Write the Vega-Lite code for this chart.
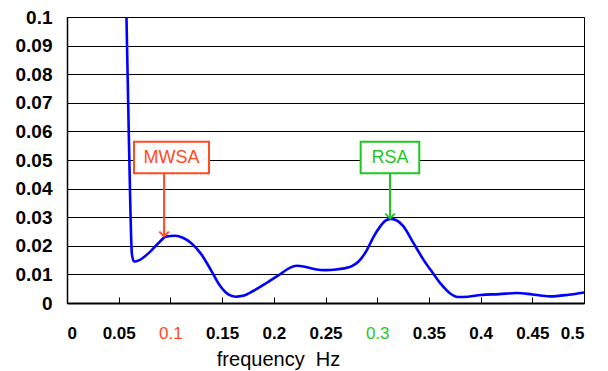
{
  "$schema": "https://vega.github.io/schema/vega-lite/v6.json",
  "width": 517,
  "height": 286,
  "autosize": {"type": "none"},
  "padding": {"left": 67, "top": 17, "right": 24, "bottom": 68},
  "background": "white",
  "config": {
    "view": {"stroke": "black", "strokeWidth": 1},
    "font": "Liberation Sans"
  },
  "datasets": {
    "spectrum": [
      {"f": 0.0575, "p": 0.1},
      {"f": 0.06, "p": 0.055},
      {"f": 0.0628, "p": 0.017},
      {"f": 0.0648, "p": 0.0145},
      {"f": 0.07, "p": 0.015},
      {"f": 0.08, "p": 0.0178},
      {"f": 0.09, "p": 0.0215},
      {"f": 0.0955, "p": 0.0232},
      {"f": 0.105, "p": 0.0235},
      {"f": 0.112, "p": 0.0228},
      {"f": 0.12, "p": 0.021},
      {"f": 0.13, "p": 0.017},
      {"f": 0.14, "p": 0.011},
      {"f": 0.148, "p": 0.006},
      {"f": 0.156, "p": 0.003},
      {"f": 0.163, "p": 0.0022},
      {"f": 0.17, "p": 0.0025},
      {"f": 0.18, "p": 0.0042},
      {"f": 0.193, "p": 0.007},
      {"f": 0.205, "p": 0.0098},
      {"f": 0.215, "p": 0.0122},
      {"f": 0.222, "p": 0.013},
      {"f": 0.23, "p": 0.0127},
      {"f": 0.24, "p": 0.0118},
      {"f": 0.25, "p": 0.0115},
      {"f": 0.26, "p": 0.0117},
      {"f": 0.268, "p": 0.0121},
      {"f": 0.275, "p": 0.0128},
      {"f": 0.282, "p": 0.0145},
      {"f": 0.29, "p": 0.0185},
      {"f": 0.297, "p": 0.0235},
      {"f": 0.303, "p": 0.0268},
      {"f": 0.308, "p": 0.0288},
      {"f": 0.313, "p": 0.0294},
      {"f": 0.318, "p": 0.029},
      {"f": 0.325, "p": 0.027},
      {"f": 0.335, "p": 0.021},
      {"f": 0.345, "p": 0.015},
      {"f": 0.354, "p": 0.0104},
      {"f": 0.362, "p": 0.0065},
      {"f": 0.37, "p": 0.0035},
      {"f": 0.378, "p": 0.0021},
      {"f": 0.388, "p": 0.0022},
      {"f": 0.4, "p": 0.0028},
      {"f": 0.418, "p": 0.0031},
      {"f": 0.435, "p": 0.0035},
      {"f": 0.45, "p": 0.003},
      {"f": 0.467, "p": 0.0023},
      {"f": 0.485, "p": 0.0029},
      {"f": 0.5, "p": 0.0037}
    ],
    "notes": [
      {"name": "MWSA", "x0": 0.0648, "x1": 0.1373, "xc": 0.101, "xa": 0.0939, "ytop": 0.0564, "ybot": 0.04535, "ymid": 0.0508, "tip": 0.0233},
      {"name": "RSA", "x0": 0.284, "x1": 0.3407, "xc": 0.3124, "xa": 0.3124, "ytop": 0.0564, "ybot": 0.04535, "ymid": 0.0508, "tip": 0.0296}
    ]
  },
  "layer": [
    {
      "data": {"name": "spectrum"},
      "mark": {"type": "line", "color": "#0000ff", "strokeWidth": 2.6, "interpolate": "monotone", "clip": true},
      "encoding": {
        "x": {
          "field": "f", "type": "quantitative",
          "scale": {"domain": [0, 0.5], "nice": false, "zero": false},
          "axis": {
            "values": [0, 0.05, 0.1, 0.15, 0.2, 0.25, 0.3, 0.35, 0.4, 0.45, 0.5],
            "tickCount": 20,
            "format": ".2~f",
            "grid": false,
            "labelOverlap": false,
            "domainColor": "black",
            "domainWidth": 2,
            "tickColor": "black",
            "tickSize": -6,
            "labelPadding": 28,
            "labelFontSize": 17,
            "labelFont": "Liberation Sans",
            "labelFontWeight": {"condition": {"test": "abs(datum.value - 0.1) < 0.001 || abs(datum.value - 0.3) < 0.001", "value": "normal"}, "value": "bold"},
            "labelColor": {"condition": [{"test": "abs(datum.value - 0.1) < 0.001", "value": "#ff4a22"}, {"test": "abs(datum.value - 0.3) < 0.001", "value": "#1ec81e"}], "value": "black"},
            "title": "frequency\u00a0\u00a0Hz",
            "titleFont": "Liberation Sans",
            "titleFontSize": 20,
            "titleFontWeight": "normal",
            "titleColor": "black",
            "titleX": 211,
            "titleY": 56,
            "titleAlign": "center",
            "titleBaseline": "middle"
          }
        },
        "y": {
          "field": "p", "type": "quantitative",
          "scale": {"domain": [0, 0.1], "nice": false},
          "axis": {
            "values": [0, 0.01, 0.02, 0.03, 0.04, 0.05, 0.06, 0.07, 0.08, 0.09, 0.1],
            "tickCount": 20,
            "format": ".2~f",
            "grid": true,
            "labelOverlap": false,
            "gridColor": "black",
            "gridOpacity": 1,
            "gridWidth": 1,
            "domainColor": "black",
            "domainWidth": 1.5,
            "ticks": false,
            "labelPadding": 15,
            "labelFontSize": 19,
            "labelFont": "Liberation Sans",
            "labelFontWeight": "bold",
            "labelColor": "black",
            "title": null
          }
        }
      }
    },
    {
      "data": {"name": "notes"},
      "mark": {"type": "rule", "strokeWidth": 2},
      "encoding": {
        "x": {"field": "xa", "type": "quantitative"},
        "y": {"field": "ybot", "type": "quantitative"},
        "y2": {"field": "tip"},
        "color": {"field": "name", "type": "nominal", "scale": {"domain": ["MWSA", "RSA"], "range": ["#ff4a22", "#1ec81e"]}, "legend": null}
      }
    },
    {
      "data": {"name": "notes"},
      "mark": {"type": "point", "shape": "M-1,-1L0,0L1,-1", "filled": false, "strokeWidth": 2, "size": 90, "opacity": 1},
      "encoding": {
        "x": {"field": "xa", "type": "quantitative"},
        "y": {"field": "tip", "type": "quantitative"},
        "color": {"field": "name", "type": "nominal", "scale": {"domain": ["MWSA", "RSA"], "range": ["#ff4a22", "#1ec81e"]}, "legend": null}
      }
    },
    {
      "data": {"name": "notes"},
      "mark": {"type": "rect", "fill": "white", "strokeWidth": 2},
      "encoding": {
        "x": {"field": "x0", "type": "quantitative"},
        "x2": {"field": "x1"},
        "y": {"field": "ytop", "type": "quantitative"},
        "y2": {"field": "ybot"},
        "stroke": {"field": "name", "type": "nominal", "scale": {"domain": ["MWSA", "RSA"], "range": ["#ff4a22", "#1ec81e"]}, "legend": null}
      }
    },
    {
      "data": {"name": "notes"},
      "mark": {"type": "text", "fontSize": 18, "font": "Liberation Sans", "align": "center", "baseline": "middle"},
      "encoding": {
        "x": {"field": "xc", "type": "quantitative"},
        "y": {"field": "ymid", "type": "quantitative"},
        "text": {"field": "name"},
        "color": {"field": "name", "type": "nominal", "scale": {"domain": ["MWSA", "RSA"], "range": ["#ff4a22", "#1ec81e"]}, "legend": null}
      }
    }
  ]
}
